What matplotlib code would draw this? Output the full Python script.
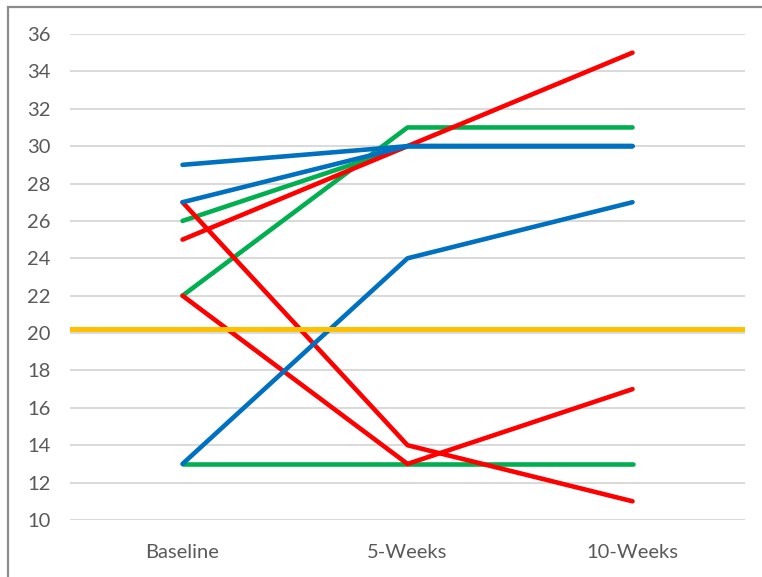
import numpy as np
import matplotlib.pyplot as plt
from matplotlib.patches import Rectangle

plt.rcParams['font.family'] = ['Lato', 'DejaVu Sans']

weeks = ['Baseline', '5-Weeks', '10-Weeks']

green_series = [[22, 31, 31], [26, 30, 30], [13, 13, 13]]
red_series = [[25, 30, 35], [27, 14, 11], [22, 13, 17]]
blue_series = [[29, 30, 30], [27, 30, 30], [13, 24, 27]]
threshold = 20.2

yticks = list(range(10, 37, 2))

fig = plt.figure(figsize=(7.62, 5.77), dpi=100)
ax = fig.add_axes([0.0919, 0.0988, 0.8858, 0.8423])

# chart frame
fig.patches.append(Rectangle((8 / 762, -0.05), 1.1, 1 - 7 / 577 + 0.05,
                             transform=fig.transFigure, fill=False,
                             edgecolor='#8c8c8c', linewidth=1.6))

x = np.arange(len(weeks))
for s in green_series:
    ax.plot(x, s, color='#00B050', lw=3.3, solid_capstyle='round', solid_joinstyle='round', zorder=3)
for s in red_series:
    ax.plot(x, s, color='#FF0000', lw=3.3, solid_capstyle='round', solid_joinstyle='round', zorder=4)
for s in blue_series:
    ax.plot(x, s, color='#0070C0', lw=3.3, solid_capstyle='round', solid_joinstyle='round', zorder=5)
ax.axhline(threshold, xmin=-0.005, xmax=1.0, color='#FFC000', lw=3.6, zorder=6)

ax.set_xlim(-0.5, 2.5)
ax.set_ylim(10, 36)
ax.set_yticks(yticks)
ax.set_xticks(x)
ax.set_xticklabels(weeks)
ax.grid(axis='y', color='#D9D9D9', lw=1.4, zorder=0)
ax.set_axisbelow(True)
for sp in ax.spines.values():
    sp.set_visible(False)
ax.tick_params(length=0, labelsize=14.5, colors='#595959')
ax.tick_params(axis='y', pad=14)
ax.tick_params(axis='x', pad=17)

fig.savefig('out.png', dpi=100)
